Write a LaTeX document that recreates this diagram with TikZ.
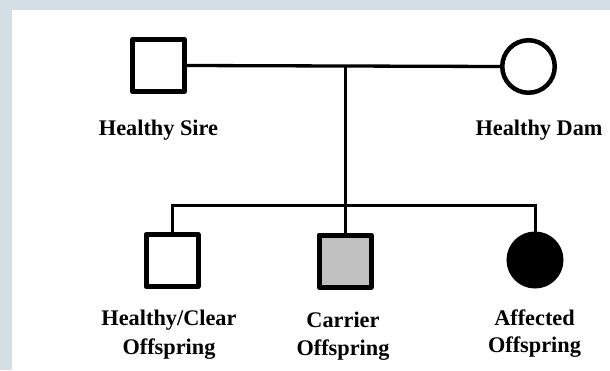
\documentclass[tikz,border=0pt]{standalone}
\usepackage{fontspec}
\setmainfont{Liberation Serif}
\definecolor{frame}{HTML}{D3DFE5}
\definecolor{carriergray}{HTML}{C0C0C0}
\tikzset{
  sq/.style={draw, rectangle, line width=5pt, line join=round, minimum size=52pt, inner sep=0pt, fill=white},
  circ/.style={draw, circle, line width=4.5pt, minimum size=52.5pt, inner sep=0pt, fill=white},
  lbl/.style={anchor=base, font=\bfseries\fontsize{22.3}{26}\selectfont, inner sep=0pt},
  link/.style={line width=3pt}
}
\begin{document}
\begin{tikzpicture}[x=1pt,y=-1pt]
  \useasboundingbox (0,0) rectangle (610,370);
  \fill[frame] (0,0) rectangle (610,370);
  \fill[white] (12,10) rectangle (610,370);
  % parents
  \node[sq] (sire) at (158.5,65.5) {};
  \node[circ] (dam) at (528.5,66.5) {};
  \coordinate (mid) at (345,66);
  \coordinate (sib) at (345,205.7);
  % offspring
  \node[sq] (clear) at (172,260.5) {};
  \node[sq, fill=carriergray] (carrier) at (345,261) {};
  \node[circ, fill=black] (aff) at (535,260) {};
  % connectors
  \draw[link, line width=3.3pt] (sire.east) -- (dam.west);
  \draw[link] (mid) -- (carrier.north);
  \draw[link, line join=miter] (clear.north) -- (clear.north |- sib) -- (aff.north |- sib) -- (aff.north);
  % labels
  \node[lbl] (lsire) at (158.5,135) {Healthy Sire};
  \node[lbl] (ldam) at (539,135) {Healthy Dam};
  \node[lbl] (lclear1) at (169,325) {Healthy/Clear};
  \node[lbl] (lclear2) at (169,354) {Offspring};
  \node[lbl] (lcar1) at (343,327) {Carrier};
  \node[lbl] (lcar2) at (343,355) {Offspring};
  \node[lbl] (laff1) at (534.5,325) {Affected};
  \node[lbl] (laff2) at (534.5,352) {Offspring};
\end{tikzpicture}
\end{document}
